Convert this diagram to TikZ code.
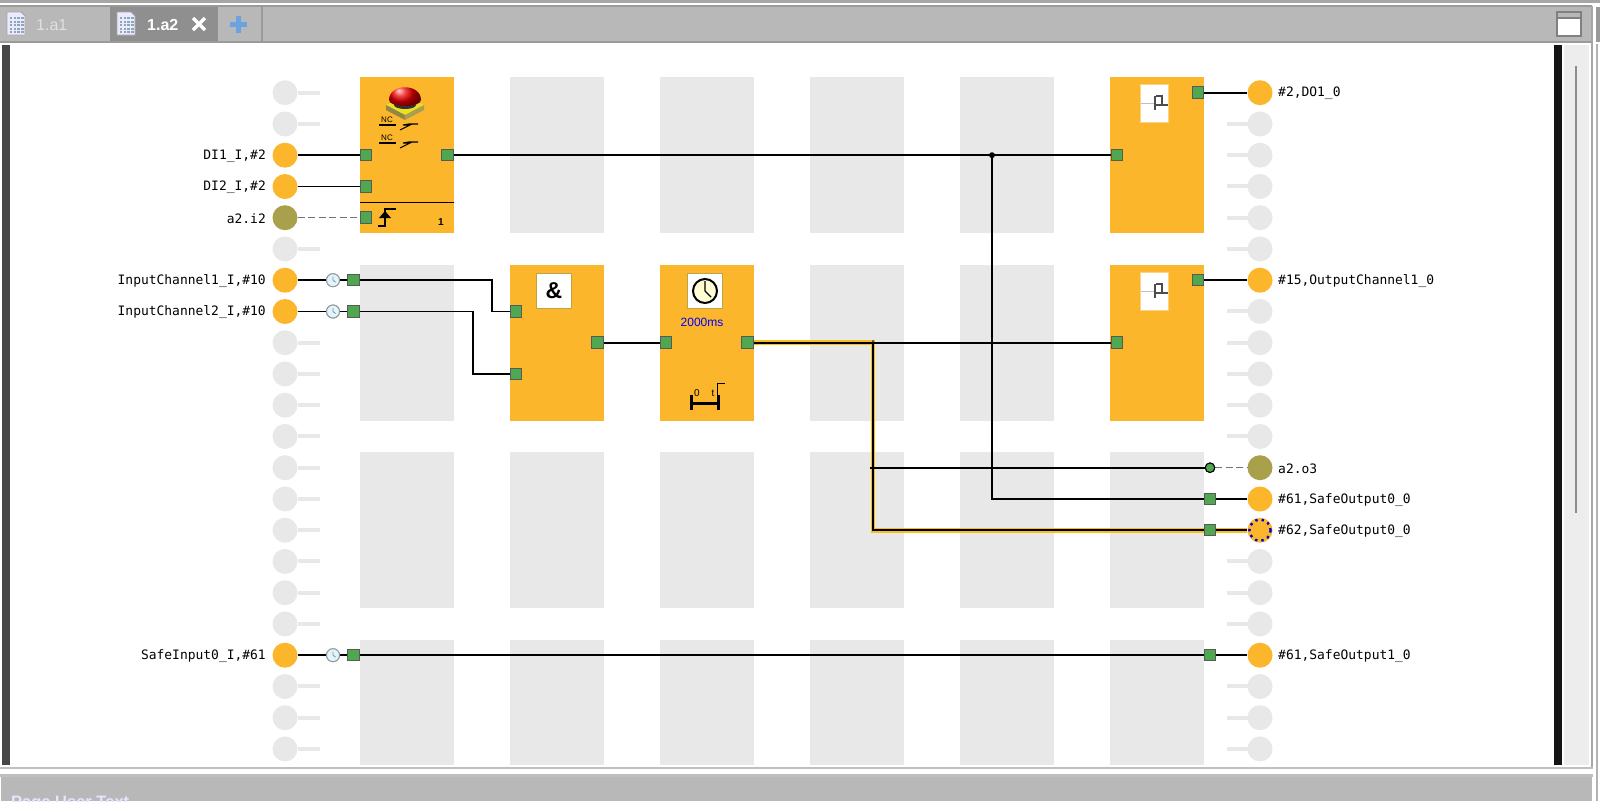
\documentclass[tikz,border=0pt]{standalone}
\usepackage{fontspec}
\setmainfont{Liberation Sans}
\newfontfamily\labfont{DejaVu Sans Mono}
\usetikzlibrary{calc}
\definecolor{barg}{HTML}{B8B8B8}
\definecolor{bargd}{HTML}{9A9A9A}
\definecolor{tabd}{HTML}{8F8F8F}
\definecolor{cellg}{HTML}{E8E8E8}
\definecolor{orng}{HTML}{FBB62B}
\definecolor{olive}{HTML}{A9A04C}
\definecolor{pgreen}{HTML}{4FA84F}
\definecolor{hlyel}{HTML}{F8BE1E}
\definecolor{plusblue}{HTML}{6BA3E0}
\definecolor{docgrid}{HTML}{8FA6B8}
\tikzset{
  x=1pt,y=-1pt,
  cell/.style={fill=cellg,draw=none,minimum width=93.5pt,minimum height=156pt,anchor=north west,inner sep=0},
  fblock/.style={cell,fill=orng},
  pin/.style={draw=black!65,line width=1pt,fill=pgreen,minimum size=11.5pt,inner sep=0,rectangle},
  iocirc/.style={circle,fill=orng,minimum size=25pt,inner sep=0},
  iolive/.style={iocirc,fill=olive},
  ioidle/.style={iocirc,fill=cellg},
  stubline/.style={cellg,line width=4pt},
  lab/.style={font=\labfont\fontsize{12.95}{13}\selectfont,inner sep=0,text=black},
  wire/.style={black,line width=1.7pt},
  hlwire/.style={hlyel,line width=4.6pt},
  dashwire/.style={black!55,line width=1.4pt,dash pattern=on 7pt off 3.5pt},
  delayclk/.style={circle,draw=black!40,line width=1pt,fill=cyan!12,minimum size=13pt,inner sep=0},
  iconbox/.style={fill=white,draw=olive!75!orng,line width=1.5pt,minimum width=35pt,minimum height=35pt,inner sep=0},
  contactbox/.style={fill=white,draw=orng!60!white,line width=1pt,minimum width=28pt,minimum height=38pt,inner sep=0},
  tabtxt/.style={font=\bfseries\fontsize{16}{18}\selectfont,inner sep=0},
  sym/.style={black,line width=1.5pt},
  symthick/.style={black,line width=3pt}
}
\begin{document}
\begin{tikzpicture}
\useasboundingbox (0,0) rectangle (1600,801);
\fill[white] (0,0) rectangle (1600,801);
% window chrome
\fill[black!35] (0,0) rectangle (1600,2.5);
\fill[barg] (0,6) rectangle (1592,42);
\draw[bargd,line width=2pt] (0,6) -- (1592,6);
\draw[bargd,line width=2pt] (0,42) -- (1592,42);
\fill[tabd] (110,7) rectangle (218,41);
\draw[bargd,line width=1.2pt] (262,7) -- (262,41);
\fill[bargd] (1596,7) rectangle (1600,42);
\draw[black!35,line width=1.5pt] (1592,6) -- (1592,768);
\draw[black!30,line width=1.5pt] (1597,44) -- (1597,801);
\fill[black!25] (0,767) rectangle (1593,769);
\fill[black!25] (0,774) rectangle (1593,776.5);
\fill[barg] (1,777) rectangle (1592,801);
\begin{scope}
\clip (0,777) rectangle (1600,801);
\node[anchor=north west,inner sep=0,font=\bfseries\fontsize{16.5}{18}\selectfont,text=white!90!blue] (bottomtxt) at (11,796) {Page User Text};
\end{scope}
% tabs
\foreach \tx/\tn in {16/ta,126/tb}{
  \fill[white!92!blue,draw=black!35,line width=.8pt] (\tx-9,12) -- (\tx+5,12) -- (\tx+9,16) -- (\tx+9,35) -- (\tx-9,35) -- cycle;
  \foreach \ga in {0,1,2,3}\foreach \gb in {0,1,2,3,4}
    \fill[docgrid] (\tx-6+\ga*3.7,17+\gb*3.5) rectangle ++(2.4,2.3);
}
\node[tabtxt,text=black!12,font=\fontsize{16}{18}\selectfont,anchor=west] (tabone) at (36,25) {1.a1};
\node[tabtxt,text=white,anchor=west] (tabtwo) at (147,25) {1.a2};
\draw[white,line width=3.4pt] (193,18) -- (205,30) (205,18) -- (193,30);
\draw[plusblue,line width=5pt] (238,16) -- (238,33) (229.5,24.5) -- (246.5,24.5);
\draw[black!50,line width=1.3pt,fill=white] (1557,12) rectangle (1581,36);
\fill[barg] (1558,13) rectangle (1580,17);
\draw[black!50,line width=1.3pt] (1557,18) -- (1581,18);
% side bars
\fill[black!72] (2,45) rectangle (10,765);
\fill[black!92] (1554,45) rectangle (1562,765);
\fill[black!7] (1564,45) rectangle (1589,765);
\draw[black!45,line width=2.4pt] (1576,66) -- (1576,513);
% grid cells
\foreach \cx/\cy/\cn in {510/77/a,660/77/b,810/77/c,960/77/d,
  360/265/e,810/265/f,960/265/g,
  360/452/h,510/452/i,660/452/j,810/452/k,960/452/l,1110/452/m}
  \node[cell] (cell\cn) at (\cx,\cy) {};
\foreach \cx/\cn in {360/n,510/o,660/p,810/q,960/r,1110/s}
  \node[cell,minimum height=125pt] (cell\cn) at (\cx,640) {};
% function blocks
\node[fblock] (estop) at (360,77) {};
\node[fblock] (andb) at (510,265) {};
\node[fblock] (timer) at (660,265) {};
\node[fblock] (outa) at (1110,77) {};
\node[fblock] (outb) at (1110,265) {};
% e-stop icon
\fill[yellow!75!olive] (386,105) -- (405,96) -- (424,105) -- (405,115) -- cycle;
\fill[olive!85!black] (386,105) -- (405,115) -- (405,120) -- (386,110) -- cycle;
\fill[olive] (424,105) -- (405,115) -- (405,120) -- (424,110) -- cycle;
\fill[black!80] (405,105) ellipse (11 and 4);
\shade[ball color=red!95!black] (389,100) .. controls (389,83) and (421,83) .. (421,100) .. controls (421,108) and (389,108) .. (389,100);
\foreach \sy in {0,18}{
  \node[inner sep=0,font=\fontsize{8}{8}\selectfont] (nc\sy) at (387,{120+\sy}) {NC};
  \draw[black,line width=1.1pt] (379,{125+\sy}) -- (396,{125+\sy});
  \draw[black,line width=1.1pt] (400,{130+\sy}) -- (410,{125+\sy}) -- (403,{125+\sy}) -- (409,{124+\sy}) -- (418,{124+\sy});
}
\draw[black,line width=1.6pt] (360,202.5) -- (453.5,202.5);
\draw[sym] (378,226) -- (385,226) -- (385,209) -- (396,209);
\fill[black] (379,218) -- (385,211) -- (391,218) -- cycle;
\node[inner sep=0,font=\bfseries\fontsize{10}{12}\selectfont] (edgeone) at (441,222) {1};
% AND icon
\node[iconbox] (andicon) at (554,291) {};
\node[inner sep=0,font=\bfseries\fontsize{23}{25}\selectfont] (andsign) at (554,291) {\&};
% timer icons
\node[iconbox] (clkicon) at (705,291) {};
\node[circle,draw=black,line width=2pt,fill=yellow!18!white,minimum size=24pt,inner sep=0] (clkface) at (705,291) {};
\draw[black,line width=1.4pt] (clkface.center) -- (705,281) (clkface.center) -- (711,297);
\node[inner sep=0,text=blue,font=\fontsize{12}{13}\selectfont] (timems) at (702,322) {2000ms};
\draw[symthick] (691,395) -- (691,410) (718,395) -- (718,410) (691,403) -- (718,403);
\node[inner sep=0,font=\fontsize{10}{12}\selectfont] (tz) at (697,393) {0};
\node[inner sep=0,font=\fontsize{10}{12}\selectfont] (tt) at (713,393) {t};
\draw[black,line width=1pt] (717,398) -- (717,383) -- (725,383);
% contact icons
\foreach \cn/\cy in {ca/103,cb/291}{
  \node[contactbox] (\cn) at (1154.5,\cy) {};
  \draw[black!25,line width=1pt] (1141,\cy) -- (1154,\cy);
  \draw[black!70,line width=2.4pt] (1155,\cy-7) -- (1155,\cy+7);
  \draw[black!70,line width=2.4pt] (1155,\cy+2) -- (1168,\cy+2);
  \draw[black!70,line width=1.6pt] (1162,\cy+2) -- (1162,\cy-7) -- (1156,\cy-7);
}
% idle left IO
\foreach \i in {0,1,5,8,9,10,11,12,13,14,15,16,17,19,20,21}{
  \pgfmathsetmacro\yy{92.7+31.25*\i}
  \draw[stubline] (298,\yy) -- (320,\yy);
  \node[ioidle] (li\i) at (285,\yy) {};
}
% idle right IO
\foreach \i in {1,2,3,4,5,7,8,9,10,11,15,16,17,19,20,21}{
  \pgfmathsetmacro\yy{92.7+31.25*\i}
  \draw[stubline] (1227,\yy) -- (1248,\yy);
  \node[ioidle] (ri\i) at (1260,\yy) {};
}
% used IO circles
\node[iocirc] (iDI1) at (285,155.2) {};
\node[iocirc] (iDI2) at (285,186.5) {};
\node[iolive] (ia2) at (285,217.7) {};
\node[iocirc] (iCh1) at (285,280.2) {};
\node[iocirc] (iCh2) at (285,311.5) {};
\node[iocirc] (iSafe) at (285,655.2) {};
\node[iocirc] (oDO1) at (1260,92.7) {};
\node[iocirc] (oCh1) at (1260,280.2) {};
\node[iolive] (oa2) at (1260,467.7) {};
\node[iocirc] (oS61) at (1260,499) {};
\node[iocirc] (oS62) at (1260,530.2) {};
\node[iocirc] (oS1) at (1260,655.2) {};
\draw[blue!85!black,line width=2.4pt,dash pattern=on 2.4pt off 4pt] (oS62.center) circle (10.6);
% labels
\node[lab,anchor=east] (tDI1) at (266,156.2) {DI1\_I,\#2};
\node[lab,anchor=east] (tDI2) at (266,187.5) {DI2\_I,\#2};
\node[lab,anchor=east] (ta2) at (266,218.7) {a2.i2};
\node[lab,anchor=east] (tCh1) at (266,281.2) {InputChannel1\_I,\#10};
\node[lab,anchor=east] (tCh2) at (266,312.5) {InputChannel2\_I,\#10};
\node[lab,anchor=east] (tSafe) at (266,656.2) {SafeInput0\_I,\#61};
\node[lab,anchor=west] (rDO1) at (1278,93.7) {\#2,DO1\_0};
\node[lab,anchor=west] (rCh1) at (1278,281.2) {\#15,OutputChannel1\_0};
\node[lab,anchor=west] (ra2) at (1278,468.7) {a2.o3};
\node[lab,anchor=west] (rS61) at (1278,500) {\#61,SafeOutput0\_0};
\node[lab,anchor=west] (rS62) at (1278,531.2) {\#62,SafeOutput0\_0};
\node[lab,anchor=west] (rS1) at (1278,656.2) {\#61,SafeOutput1\_0};
% pins
\node[pin] (pE1) at (366,155.2) {};
\node[pin] (pE2) at (366,186.5) {};
\node[pin] (pE3) at (366,217.7) {};
\node[pin] (pEo) at (447.5,155.2) {};
\node[pin] (pI1) at (353.5,280.2) {};
\node[pin] (pI2) at (353.5,311.5) {};
\node[pin] (pI3) at (353.5,655.2) {};
\node[pin] (pA1) at (516,311.5) {};
\node[pin] (pA2) at (516,374) {};
\node[pin] (pAo) at (597.5,342.7) {};
\node[pin] (pTi) at (666,342.7) {};
\node[pin] (pTo) at (747.5,342.7) {};
\node[pin] (pOai) at (1117,155.2) {};
\node[pin] (pOao) at (1198,92.7) {};
\node[pin] (pObi) at (1117,342.7) {};
\node[pin] (pObo) at (1198,280.2) {};
\node[pin] (pR13) at (1210,499) {};
\node[pin] (pR14) at (1210,530.2) {};
\node[pin] (pR18) at (1210,655.2) {};
\node[circle,draw=black,line width=1pt,fill=pgreen,minimum size=9.5pt,inner sep=0] (pR12) at (1210,467.7) {};
% delay clocks
\node[delayclk] (d1) at (333,280.2) {};
\node[delayclk] (d2) at (333,311.5) {};
\node[delayclk] (d3) at (333,655.2) {};
% helper coordinates
\coordinate (jOut) at (992,155.2);
\coordinate (jHi) at (873,342.7);
\coordinate (jAnd1) at (491.7,295);
\coordinate (jAnd2) at (473.3,340);
\coordinate (jMid) at (870,467.7);
% highlighted connector
\draw[hlwire,line join=miter] (pTo.east) -- (jHi) |- (pR14.west);
\draw[hlwire] (pR14.east) -- (oS62.west);
% wires
\draw[wire] (iDI1) -- (pE1);
\draw[wire] (iDI2) -- (pE2);
\draw[dashwire] (ia2) -- (pE3);
\draw[wire] (iCh1) -- (d1);
\draw[wire] (iCh2) -- (d2);
\draw[wire] (iSafe) -- (d3);
\draw[wire] (d1) -- (pI1);
\draw[wire] (d2) -- (pI2);
\draw[wire] (d3) -- (pI3);
\draw[wire] (pI1.east) -| (jAnd1) |- (pA1.west);
\draw[wire] (pI2.east) -| (jAnd2) |- (pA2.west);
\draw[wire] (pAo) -- (pTi);
\draw[wire] (pEo) -- (pOai);
\draw[wire] (pOao) -- (oDO1);
\draw[wire] (pObo) -- (oCh1);
\draw[wire] (pTo.east) -- (jHi) -- (pObi.west);
\draw[wire] (jHi) |- (pR14.west);
\draw[wire] (pR14) -- (oS62);
\draw[wire] (jMid) -- (pR12.west);
\draw[dashwire] (pR12) -- (oa2);
\draw[wire] (jOut) |- (pR13.west);
\draw[wire] (pR13) -- (oS61);
\draw[wire] (pI3) -- (pR18);
\draw[wire] (pR18) -- (oS1);
\fill[black] (jOut) circle (3);
\fill[black!70] (jHi) ++(0,-1.5) circle (1.3);
% redraw the pins crossed by wires
\foreach \pn/\px/\py in {pR13/1210/499,pR14/1210/530.2,pR18/1210/655.2,pE1/366/155.2,pE2/366/186.5,pE3/366/217.7,pEo/447.5/155.2,pI1/353.5/280.2,pI2/353.5/311.5,pI3/353.5/655.2,pA1/516/311.5,pA2/516/374,pAo/597.5/342.7,pTi/666/342.7,pTo/747.5/342.7,pOai/1117/155.2,pOao/1198/92.7,pObi/1117/342.7,pObo/1198/280.2}
  \node[pin] at (\px,\py) {};
\node[delayclk] at (333,280.2) {};
\node[delayclk] at (333,311.5) {};
\node[delayclk] at (333,655.2) {};
\foreach \dn in {d1,d2,d3}
  \draw[black!45,line width=.8pt] (\dn.center) -- ++(0,-3.5) (\dn.center) -- ++(2.5,2);
\node[circle,draw=black,line width=1pt,fill=pgreen,minimum size=9.5pt,inner sep=0] at (1210,467.7) {};
\end{tikzpicture}
\end{document}
